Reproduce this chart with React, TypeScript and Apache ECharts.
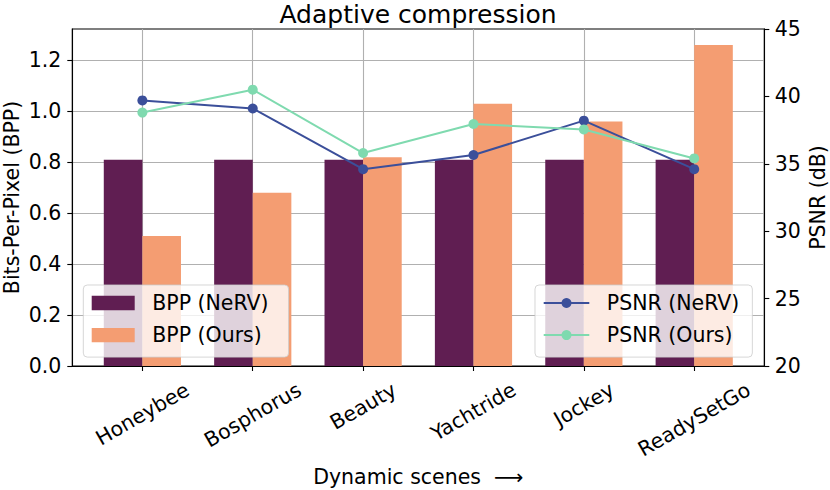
import React, { useEffect, useRef } from "react";
import * as echarts from "echarts";

// ---- data ----
const categories = ["Honeybee", "Bosphorus", "Beauty", "Yachtride", "Jockey", "ReadySetGo"];
const bppNerv = [0.81, 0.81, 0.81, 0.81, 0.81, 0.81];
const bppOurs = [0.51, 0.68, 0.82, 1.03, 0.96, 1.26];
const psnrNerv = [39.7, 39.1, 34.6, 35.65, 38.2, 34.6];
const psnrOurs = [38.8, 40.5, 35.8, 37.95, 37.55, 35.4];
const bppTicks = [0, 0.2, 0.4, 0.6, 0.8, 1.0, 1.2];
const catTicks = [0, 1, 2, 3, 4, 5];

const FONT = "'DejaVu Sans', 'Liberation Sans', sans-serif";
const FS = 20.5;

function measure(t: string): number {
  const c = document.createElement("canvas").getContext("2d");
  if (!c) return t.length * FS * 0.6;
  c.font = `${FS}px 'DejaVu Sans'`;
  return c.measureText(t).width;
}

export default function App() {
  const ref = useRef<HTMLDivElement>(null);
  useEffect(() => {
    if (!ref.current) return;
    const chart = echarts.init(ref.current, null, { renderer: "svg" });

    const rich: Record<string, any> = {};
    categories.forEach((c, i) => {
      const w = measure(c);
      rich["c" + i] = {
        fontSize: FS,
        fontFamily: FONT,
        color: "#000",
        padding: [0.433 * w, w / 4, 0, 0],
      };
    });

    const axisLineStyle = { color: "#000", width: 1.1 };
    const gridLine = { show: true, lineStyle: { color: "#b0b0b0", width: 1.1 } };

    const legendCommon = {
      orient: "vertical",
      backgroundColor: "rgba(255,255,255,0.8)",
      borderColor: "rgba(204,204,204,0.8)",
      borderWidth: 1,
      borderRadius: 4,
      itemGap: 11.1,
      textStyle: { fontSize: FS, fontFamily: FONT, color: "#000", padding: [0, 0, 0, 12.5] },
    };

    const option: any = {
      animation: false,
      backgroundColor: "#fff",
      title: {
        text: "Adaptive compression",
        left: 418,
        top: 1.5,
        padding: 0,
        textAlign: "center",
        textStyle: { fontSize: 25, fontWeight: "normal", fontFamily: FONT, color: "#000" },
      },
      grid: {
        left: 72.3,
        right: 830 - 764.3,
        top: 29,
        bottom: 490 - 366,
        containLabel: false,
        outerBoundsMode: "none",
        show: true,
        borderColor: "#000",
        borderWidth: 1.1,
        backgroundColor: "transparent",
      },
      legend: [
        {
          ...legendCommon,
          data: ["BPP (NeRV)", "BPP (Ours)"],
          left: 83.3,
          top: 285,
          icon: "rect",
          itemWidth: 43,
          itemHeight: 14.3,
          padding: [7.5, 20, 11.5, 8.4],
        },
        {
          ...legendCommon,
          data: ["PSNR (NeRV)", "PSNR (Ours)"],
          left: 535,
          top: 285,
          itemWidth: 45.6,
          itemHeight: 12.5,
          padding: [7.5, 13, 11.5, 7.7],
        },
      ],
      xAxis: {
        type: "value",
        min: -0.635,
        max: 5.635,
        name: "Dynamic scenes\u00a0 \u27F6",
        nameLocation: "middle",
        nameGap: 111,
        nameMoveOverlap: false,
        nameTextStyle: { fontSize: FS, fontFamily: FONT, color: "#000", verticalAlign: "middle" },
        axisLine: { show: true, onZero: false, lineStyle: axisLineStyle },
        axisTick: { show: true, length: 5, inside: false, customValues: catTicks, lineStyle: axisLineStyle },
        axisLabel: {
          customValues: catTicks,
          rotate: 30,
          margin: 22,
          align: "center",
          verticalAlign: "middle",
          fontSize: FS,
          fontFamily: FONT,
          color: "#000",
          formatter: (v: number) => {
            const i = Math.round(v);
            return `{c${i}|${categories[i]}}`;
          },
          rich,
        },
        splitLine: gridLine,
      },
      yAxis: [
        {
          type: "value",
          min: 0,
          max: 1.323,
          name: "Bits-Per-Pixel (BPP)",
          nameLocation: "middle",
          nameGap: 60,
          nameRotate: 90,
          nameMoveOverlap: false,
          nameTextStyle: { fontSize: FS, fontFamily: FONT, color: "#000", verticalAlign: "middle" },
          axisLine: { show: true, onZero: false, lineStyle: axisLineStyle },
          axisTick: { show: true, length: 5, customValues: bppTicks, lineStyle: axisLineStyle },
          axisLabel: {
            customValues: bppTicks,
            margin: 11,
            fontSize: FS,
            fontFamily: FONT,
            color: "#000",
            formatter: (v: number) => v.toFixed(1),
          },
          splitLine: gridLine,
        },
        {
          type: "value",
          min: 20,
          max: 45,
          interval: 5,
          position: "right",
          name: "PSNR (dB)",
          nameLocation: "middle",
          nameGap: 53.5,
          nameRotate: 90,
          nameMoveOverlap: false,
          nameTextStyle: { fontSize: FS, fontFamily: FONT, color: "#000", verticalAlign: "middle" },
          axisLine: { show: true, onZero: false, lineStyle: axisLineStyle },
          axisTick: { show: true, length: 5, lineStyle: axisLineStyle },
          axisLabel: { margin: 10.5, fontSize: FS, fontFamily: FONT, color: "#000" },
          splitLine: { show: false },
        },
      ],
      series: [
        {
          type: "bar",
          name: "BPP (NeRV)",
          data: bppNerv.map((v, i) => [i, v]),
          barWidth: 38.6,
          barGap: "0%",
          itemStyle: { color: "#601e52" },
        },
        {
          type: "bar",
          name: "BPP (Ours)",
          data: bppOurs.map((v, i) => [i, v]),
          barWidth: 38.6,
          barGap: "0%",
          itemStyle: { color: "#f49d72" },
        },
        {
          type: "line",
          name: "PSNR (NeRV)",
          yAxisIndex: 1,
          data: psnrNerv.map((v, i) => [i, v]),
          symbol: "circle",
          symbolSize: 10,
          lineStyle: { width: 2, color: "#3b4f9a" },
          itemStyle: { color: "#3b4f9a" },
          z: 3,
        },
        {
          type: "line",
          name: "PSNR (Ours)",
          yAxisIndex: 1,
          data: psnrOurs.map((v, i) => [i, v]),
          symbol: "circle",
          symbolSize: 10,
          lineStyle: { width: 2, color: "#7fdaaf" },
          itemStyle: { color: "#7fdaaf" },
          z: 3,
        },
      ],
    };
    chart.setOption(option);
    return () => chart.dispose();
  }, []);
  return (
    <div
      ref={ref}
      style={{ position: "fixed", left: 0, top: 0, width: 830, height: 490, background: "#fff" }}
    />
  );
}
